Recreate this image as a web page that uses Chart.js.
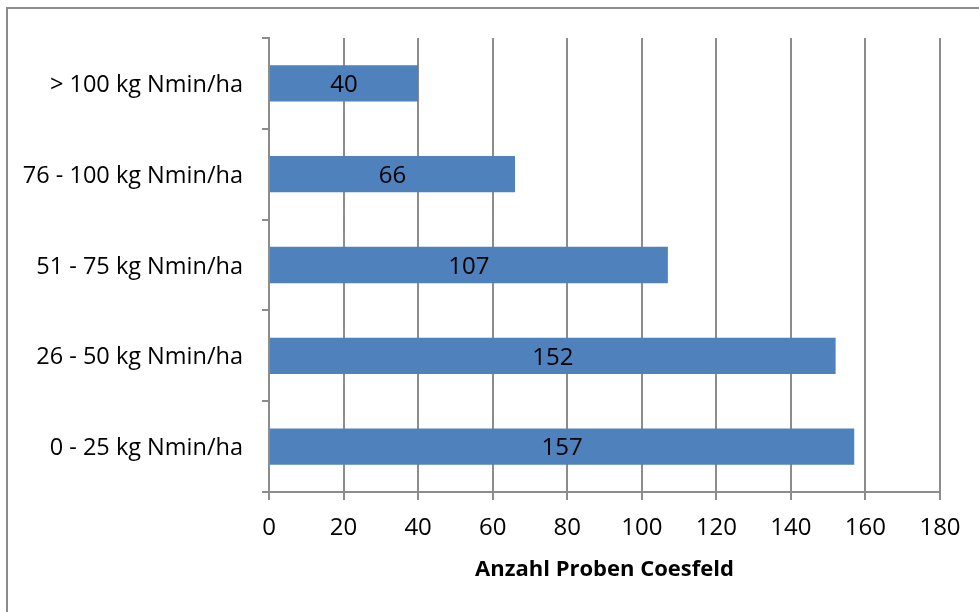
<!DOCTYPE html>
<html>
<head>
<meta charset="utf-8">
<script src="https://cdn.jsdelivr.net/npm/chart.js@4"></script>
<style>
  html, body { margin: 0; padding: 0; background: #fff; }
  #wrap { width: 979px; height: 612px; position: relative; }
</style>
</head>
<body>
<div id="wrap"><canvas id="c" width="979" height="612"></canvas></div>
<script>
// Nmin classes (top to bottom) and number of samples per class
const categories = ['> 100 kg Nmin/ha', '76 - 100 kg Nmin/ha', '51 - 75 kg Nmin/ha', '26 - 50 kg Nmin/ha', '0 - 25 kg Nmin/ha'];
const samples = [40, 66, 107, 152, 157];
const xTicks = [0, 20, 40, 60, 80, 100, 120, 140, 160, 180];
const axisTitle = 'Anzahl Proben Coesfeld';

const FONT = '"Open Sans", "Liberation Sans", sans-serif';
const GRID = '#8c8c8c';

// frame line along the top and left edge of the chart object
const framePlugin = {
  id: 'frame',
  beforeDraw(chart) {
    const ctx = chart.ctx;
    ctx.save();
    ctx.fillStyle = '#fff';
    ctx.fillRect(0, 0, chart.width, chart.height);
    ctx.strokeStyle = GRID;
    ctx.lineWidth = 2;
    ctx.beginPath();
    ctx.moveTo(7, chart.height);
    ctx.lineTo(7, 8);
    ctx.lineTo(chart.width, 8);
    ctx.stroke();
    ctx.restore();
  }
};

// value written in the middle of each bar
const valueLabels = {
  id: 'valueLabels',
  afterDatasetsDraw(chart) {
    const ctx = chart.ctx;
    const meta = chart.getDatasetMeta(0);
    ctx.save();
    ctx.font = '24px ' + FONT;
    ctx.fillStyle = '#000';
    ctx.textAlign = 'center';
    ctx.textBaseline = 'middle';
    meta.data.forEach((bar, i) => {
      const v = chart.data.datasets[0].data[i];
      ctx.fillText(String(v), (bar.x + bar.base) / 2, bar.y + 2);
    });
    ctx.restore();
  }
};

new Chart(document.getElementById('c'), {
  type: 'bar',
  data: {
    labels: categories,
    datasets: [{
      data: samples,
      backgroundColor: '#4f81bd',
      borderWidth: 0,
      categoryPercentage: 1,
      barPercentage: 0.4
    }]
  },
  options: {
    indexAxis: 'y',
    responsive: false,
    animation: false,
    devicePixelRatio: 1,
    layout: { padding: { left: 0, top: 38, right: 39, bottom: 0 } },
    plugins: { legend: { display: false }, tooltip: { enabled: false } },
    scales: {
      x: {
        min: 0,
        max: 180,
        afterBuildTicks(scale) { scale.ticks = xTicks.map(v => ({ value: v })); },
        afterFit(scale) { scale.height = 120; },
        grid: { color: GRID, lineWidth: 2, tickLength: 8, tickColor: GRID },
        border: { color: GRID, width: 2 },
        ticks: { color: '#000', font: { family: FONT, size: 24 }, padding: 14 },
        title: {
          display: true,
          text: axisTitle,
          color: '#000',
          font: { family: FONT, size: 22, weight: 'bold' },
          padding: { top: 0, bottom: 29 }
        }
      },
      y: {
        afterFit(scale) { scale.width = 269; },
        grid: { drawOnChartArea: false, drawTicks: true, tickLength: 7, color: GRID, lineWidth: 2 },
        border: { color: GRID, width: 2 },
        ticks: { color: '#000', font: { family: FONT, size: 23.5 }, padding: 19, labelOffset: 2 }
      }
    }
  },
  plugins: [framePlugin, valueLabels]
});
</script>
</body>
</html>
